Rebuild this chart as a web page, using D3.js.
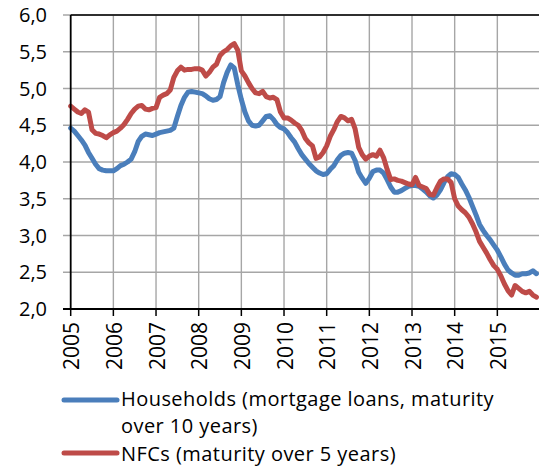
<!DOCTYPE html>
<html>
<head>
<meta charset="utf-8">
<script src="https://cdn.jsdelivr.net/npm/d3@7"></script>
<style>
  body { margin: 0; background: #fff; }
  svg text { font-family: "Open Sans", sans-serif; fill: #000; }
</style>
</head>
<body>
<div id="chart"></div>
<script>
// Monthly rates, Jan 2005 - Dec 2015
var startYear = 2005;
var years = [2005, 2006, 2007, 2008, 2009, 2010, 2011, 2012, 2013, 2014, 2015];
var yTicks = [2.0, 2.5, 3.0, 3.5, 4.0, 4.5, 5.0, 5.5, 6.0];

var households = [
  4.46, 4.42, 4.36, 4.30, 4.23, 4.13, 4.05, 3.97, 3.91, 3.89, 3.88, 3.88,
  3.88, 3.91, 3.95, 3.97, 4.00, 4.04, 4.14, 4.28, 4.35, 4.38, 4.37, 4.36,
  4.38, 4.40, 4.41, 4.42, 4.43, 4.46, 4.62, 4.77, 4.88, 4.95, 4.96, 4.95,
  4.94, 4.93, 4.90, 4.86, 4.84, 4.85, 4.89, 5.08, 5.22, 5.32, 5.28, 5.05,
  4.85, 4.68, 4.56, 4.50, 4.49, 4.50, 4.56, 4.62, 4.63, 4.58, 4.51, 4.47,
  4.45, 4.40, 4.33, 4.27, 4.18, 4.10, 4.04, 3.98, 3.93, 3.88, 3.85, 3.83,
  3.84, 3.90, 3.95, 4.03, 4.09, 4.12, 4.13, 4.12, 4.02, 3.86, 3.78, 3.71,
  3.78, 3.87, 3.89, 3.89, 3.85, 3.76, 3.66, 3.59, 3.59, 3.61, 3.64, 3.67,
  3.68, 3.68, 3.67, 3.63, 3.59, 3.54, 3.51, 3.55, 3.62, 3.72, 3.80, 3.84,
  3.83, 3.79, 3.70, 3.62, 3.52, 3.40, 3.28, 3.15, 3.07, 3.00, 2.94, 2.87,
  2.80, 2.71, 2.61, 2.53, 2.49, 2.46, 2.46, 2.48, 2.48, 2.49, 2.52, 2.48
];

var nfcs = [
  4.76, 4.72, 4.68, 4.66, 4.71, 4.68, 4.44, 4.39, 4.38, 4.36, 4.33, 4.37,
  4.40, 4.42, 4.46, 4.51, 4.58, 4.66, 4.72, 4.76, 4.77, 4.72, 4.71, 4.73,
  4.74, 4.88, 4.91, 4.93, 4.98, 5.15, 5.24, 5.29, 5.25, 5.26, 5.26, 5.27,
  5.27, 5.25, 5.17, 5.22, 5.29, 5.33, 5.45, 5.50, 5.53, 5.58, 5.61, 5.52,
  5.24, 5.17, 5.08, 5.00, 4.94, 4.93, 4.96, 4.89, 4.87, 4.88, 4.85, 4.68,
  4.60, 4.60, 4.57, 4.53, 4.50, 4.43, 4.32, 4.26, 4.22, 4.05, 4.07, 4.13,
  4.22, 4.35, 4.44, 4.55, 4.62, 4.60, 4.56, 4.58, 4.45, 4.20, 4.10, 4.04,
  4.08, 4.10, 4.08, 4.16, 4.06, 3.90, 3.76, 3.77, 3.75, 3.74, 3.72, 3.70,
  3.69, 3.79, 3.68, 3.66, 3.64, 3.56, 3.55, 3.65, 3.74, 3.77, 3.77, 3.72,
  3.50, 3.40, 3.35, 3.31, 3.25, 3.16, 3.05, 2.92, 2.84, 2.76, 2.67, 2.59,
  2.54, 2.45, 2.34, 2.25, 2.19, 2.32, 2.28, 2.24, 2.22, 2.24, 2.19, 2.16
];

var seriesNames = ["Households (mortgage loans, maturity", "NFCs (maturity over 5 years)"];
var seriesColors = ["#4a7ebb", "#be4b48"];

var width = 539;
var height = 468;
var margin = { top: 15, right: 0, bottom: 159, left: 70 };

var svg = d3.select("#chart")
  .append("svg")
  .attr("width", width)
  .attr("height", height);

var x = d3.scaleLinear()
  .domain([2005, 2016])
  .range([margin.left + 0.7, 540]);

var y = d3.scaleLinear()
  .domain([2, 6])
  .range([height - margin.bottom, margin.top]);

// grid
svg.append("g")
  .selectAll("line.hgrid")
  .data(yTicks)
  .enter()
  .append("line")
  .attr("x1", margin.left - 7)
  .attr("x2", width)
  .attr("y1", function (d) { return y(d); })
  .attr("y2", function (d) { return y(d); })
  .attr("stroke", "#a6a6a6")
  .attr("stroke-width", 1.4);

svg.append("g")
  .selectAll("line.vgrid")
  .data(years.slice(1))
  .enter()
  .append("line")
  .attr("x1", function (d) { return x(d); })
  .attr("x2", function (d) { return x(d); })
  .attr("y1", y(6))
  .attr("y2", y(2))
  .attr("stroke", "#a6a6a6")
  .attr("stroke-width", 1.4);

// top border
svg.append("line")
  .attr("x1", x(2005))
  .attr("x2", width)
  .attr("y1", y(6))
  .attr("y2", y(6))
  .attr("stroke", "#000")
  .attr("stroke-width", 1.5);

// y labels
svg.append("g")
  .selectAll("text")
  .data(yTicks)
  .enter()
  .append("text")
  .attr("x", 47)
  .attr("y", function (d) { return y(d); })
  .attr("dy", "0.36em")
  .attr("text-anchor", "end")
  .style("font-size", "20px")
  .text(function (d) { return d.toFixed(1).replace(".", ","); });

// lines
var line = d3.line()
  .x(function (d, i) { return x(startYear + i / 12); })
  .y(function (d) { return y(d); });

[households, nfcs].forEach(function (s, k) {
  svg.append("path")
    .datum(s)
    .attr("fill", "none")
    .attr("stroke", seriesColors[k])
    .attr("stroke-width", 5)
    .attr("stroke-linejoin", "round")
    .attr("stroke-linecap", "round")
    .attr("d", line);
});

// axes
svg.append("line")
  .attr("x1", x(2005))
  .attr("x2", x(2005))
  .attr("y1", y(6))
  .attr("y2", y(2))
  .attr("stroke", "#000")
  .attr("stroke-width", 1.8);

svg.append("line")
  .attr("x1", margin.left - 7)
  .attr("x2", width)
  .attr("y1", y(2))
  .attr("y2", y(2))
  .attr("stroke", "#000")
  .attr("stroke-width", 1.8);

svg.append("g")
  .selectAll("line")
  .data(years)
  .enter()
  .append("line")
  .attr("x1", function (d) { return x(d); })
  .attr("x2", function (d) { return x(d); })
  .attr("y1", y(2))
  .attr("y2", y(2) + 7)
  .attr("stroke", "#000")
  .attr("stroke-width", 1.5);

// x labels
svg.append("g")
  .selectAll("text")
  .data(years)
  .enter()
  .append("text")
  .attr("transform", function (d) {
    return "translate(" + (x(d) + 1) + "," + 322 + ") rotate(-90)";
  })
  .attr("dy", "0.36em")
  .attr("text-anchor", "end")
  .style("font-size", "21px")
  .text(function (d) { return d; });

// legend
var legend = svg.append("g")
  .style("font-size", "20px")
  .style("letter-spacing", "0.45px");
legend.append("line")
  .attr("x1", 64).attr("x2", 117)
  .attr("y1", 400).attr("y2", 400)
  .attr("stroke", seriesColors[0])
  .attr("stroke-width", 5)
  .attr("stroke-linecap", "round");
legend.append("text")
  .attr("x", 121).attr("y", 406)
  .text(seriesNames[0]);
legend.append("text")
  .attr("x", 121).attr("y", 433)
  .text("over 10 years)");
legend.append("line")
  .attr("x1", 64).attr("x2", 117)
  .attr("y1", 453).attr("y2", 453)
  .attr("stroke", seriesColors[1])
  .attr("stroke-width", 5)
  .attr("stroke-linecap", "round");
legend.append("text")
  .attr("x", 121).attr("y", 461)
  .text(seriesNames[1]);
</script>
</body>
</html>
